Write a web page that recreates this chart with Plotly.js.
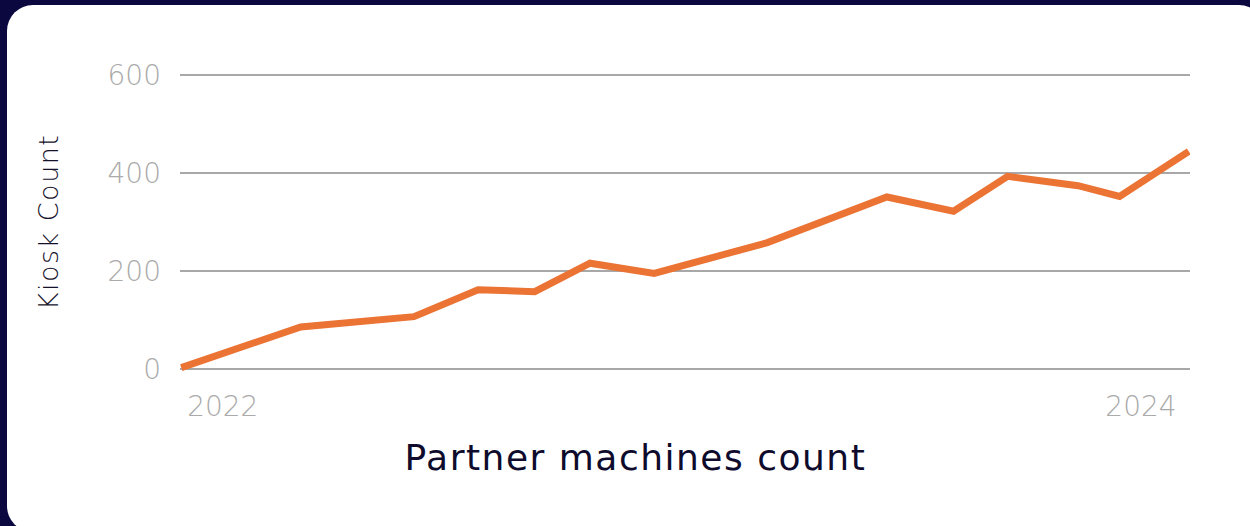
<!DOCTYPE html>
<html>
<head>
<meta charset="utf-8">
<script src="https://cdn.plot.ly/plotly-3.0.1.min.js"></script>
<style>
  html, body { margin: 0; padding: 0; width: 1250px; height: 526px; overflow: hidden; background: #0b0840; }
  #card { position: absolute; left: 7px; top: 5px; width: 1258px; height: 527px; background: #ffffff; border-radius: 26px; }
  #chart { position: absolute; left: 0; top: 0; width: 1250px; height: 526px; }
  #chart .annotation-text { letter-spacing: 1.5px; }
</style>
</head>
<body>
<div id="card"></div>
<div id="chart"></div>
<script>
// Data
const dates = ['2021-11-29','2022-03-04','2022-06-02','2022-07-23','2022-09-06','2022-10-20','2022-12-10',
               '2023-03-10','2023-06-13','2023-08-05','2023-09-17','2023-11-12','2023-12-15','2024-02-08'];
const kioskCounts = [3, 86, 107, 162, 158, 216, 195, 258, 351, 322, 393, 374, 352, 444];
const yTicks = [0, 200, 400, 600];
const xAxisTitle = 'Partner machines count';
const yAxisTitle = 'Kiosk Count';

function shiftDay(s, n) {
  const d = new Date(s + 'T00:00:00Z');
  d.setUTCDate(d.getUTCDate() + n);
  return d.toISOString().slice(0, 10);
}

const FONT = '"DejaVu Sans", Lato, sans-serif';
const tickFont = { family: FONT, size: 28, color: '#aaaaaa', weight: 200 };

const trace = {
  x: dates, y: kioskCounts, type: 'scatter', mode: 'lines',
  line: { color: '#eb7334', width: 7, shape: 'linear' },
  hoverinfo: 'skip'
};

const layout = {
  width: 1250, height: 526,
  margin: { l: 180, r: 60, t: 70, b: 152 },
  paper_bgcolor: 'rgba(0,0,0,0)',
  plot_bgcolor: 'rgba(0,0,0,0)',
  showlegend: false,
  xaxis: {
    type: 'date',
    range: [shiftDay(dates[0], -1), shiftDay(dates[dates.length - 1], 1)],
    tick0: '2022-01-01', dtick: 'M24', tickformat: '%Y',
    showgrid: false, zeroline: false, showline: false, ticks: '',
    tickfont: tickFont, ticklabelstandoff: 13
  },
  yaxis: {
    range: [-10, 610],
    tickvals: yTicks, ticktext: yTicks.map(String),
    showgrid: true, gridcolor: '#a8a8a8', gridwidth: 2,
    zeroline: false, showline: false, ticks: '',
    tickfont: tickFont, ticklabelstandoff: 18
  },
  annotations: [
    { text: yAxisTitle, xref: 'paper', yref: 'paper', x: 0, y: 0.5, xanchor: 'center', yanchor: 'middle',
      xshift: -132, yshift: 0, textangle: -90, showarrow: false,
      font: { family: FONT, size: 27, color: '#14122a', weight: 300 } },
    { text: xAxisTitle, xref: 'paper', yref: 'paper', x: 0, y: 0, xanchor: 'center', yanchor: 'middle',
      xshift: 455, yshift: -83, showarrow: false,
      font: { family: FONT, size: 36, color: '#0e0b2c', weight: 400 } }
  ]
};

Plotly.newPlot('chart', [trace], layout, { displayModeBar: false, staticPlot: true });
</script>
</body>
</html>
